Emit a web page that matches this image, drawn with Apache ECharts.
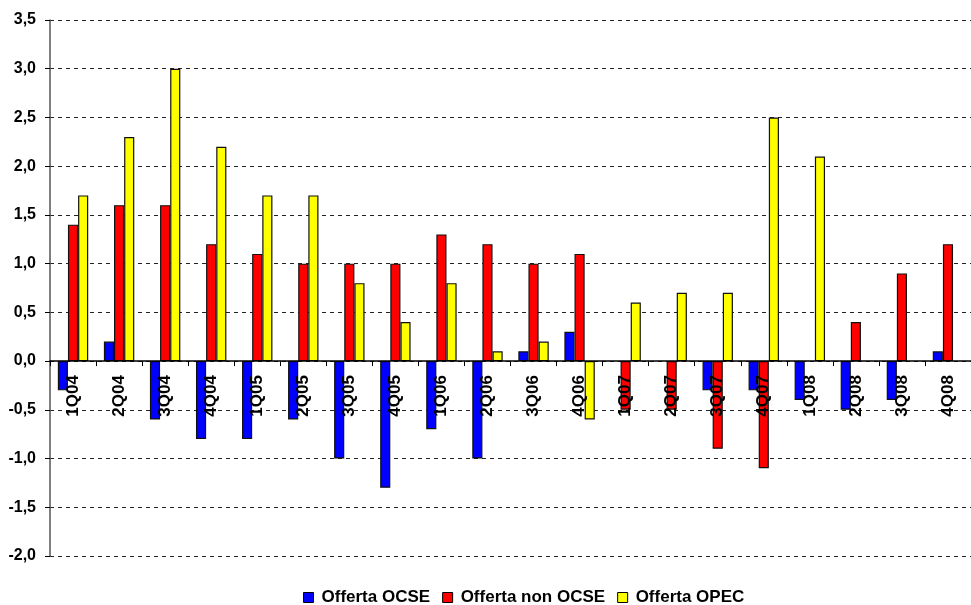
<!DOCTYPE html>
<html>
<head>
<meta charset="utf-8">
<script src="https://cdn.jsdelivr.net/npm/echarts@6/dist/echarts.min.js"></script>
<style>
  html, body { margin: 0; padding: 0; background: #fff; }
  #chart { width: 971px; height: 605px; }
</style>
</head>
<body>
<div id="chart"></div>
<script>
// Quarterly supply changes (million barrels/day), 2004-2008
const quarters = ['1Q04','2Q04','3Q04','4Q04','1Q05','2Q05','3Q05','4Q05','1Q06','2Q06',
                  '3Q06','4Q06','1Q07','2Q07','3Q07','4Q07','1Q08','2Q08','3Q08','4Q08'];
const offertaOCSE    = [-0.3, 0.2, -0.6, -0.8, -0.8, -0.6, -1.0, -1.3, -0.7, -1.0,
                         0.1, 0.3, null, null, -0.3, -0.3, -0.4, -0.5, -0.4, 0.1];
const offertaNonOCSE = [1.4, 1.6, 1.6, 1.2, 1.1, 1.0, 1.0, 1.0, 1.3, 1.2,
                        1.0, 1.1, -0.5, -0.5, -0.9, -1.1, null, 0.4, 0.9, 1.2];
const offertaOPEC    = [1.7, 2.3, 3.0, 2.2, 1.7, 1.7, 0.8, 0.4, 0.8, 0.1,
                        0.2, -0.6, 0.6, 0.7, 0.7, 2.5, 2.1, null, null, null];
const seriesNames = ['Offerta OCSE', 'Offerta non OCSE', 'Offerta OPEC'];
const seriesColors = ['#0000ff', '#ff0000', '#ffff00'];
const yMin = -2, yMax = 3.5, yStep = 0.5;

const FONT = '"Liberation Sans", Arial, sans-serif';
const GRID_TOP = 20, GRID_BOTTOM = 49, HEIGHT = 605;
// the category axis sits on the zero line: shift it up from the bottom edge
const plotH = HEIGHT - GRID_TOP - GRID_BOTTOM;
const zeroOffset = -plotH * (0 - yMin) / (yMax - yMin);

const chart = echarts.init(document.getElementById('chart'), null, { renderer: 'canvas' });

const barSeries = [offertaOCSE, offertaNonOCSE, offertaOPEC].map((vals, i) => ({
  name: seriesNames[i],
  type: 'bar',
  data: vals,
  barGap: '0%',
  barCategoryGap: '34%',
  z: 2,
  itemStyle: { color: seriesColors[i], borderColor: '#111', borderWidth: 1.2 },
  emphasis: { disabled: true }
}));

chart.setOption({
  animation: false,
  backgroundColor: '#fff',
  grid: { left: 50, right: -12, top: GRID_TOP, bottom: GRID_BOTTOM, containLabel: false },
  legend: {
    data: seriesNames.map((n, i) => ({ name: n, itemStyle: { color: seriesColors[i], borderColor: '#000', borderWidth: 1 } })),
    left: 298, top: 584,
    icon: 'rect',
    itemWidth: 10, itemHeight: 10, itemGap: 12,
    textStyle: { fontFamily: FONT, fontWeight: 'bold', fontSize: 17, color: '#000', padding: [0, 0, 0, 3] }
  },
  xAxis: {
    type: 'category',
    data: quarters,
    position: 'bottom',
    offset: zeroOffset,
    z: 10,
    axisLine: { onZero: false, lineStyle: { color: '#000', width: 1.5 } },
    axisTick: { show: true, length: 5, inside: false, lineStyle: { color: '#000' } },
    axisLabel: {
      rotate: 90, margin: 14, interval: 0,
      fontFamily: FONT, fontWeight: 'bold', fontSize: 17, color: '#000'
    }
  },
  yAxis: {
    type: 'value',
    min: yMin, max: yMax, interval: yStep,
    axisLine: { show: true, lineStyle: { color: '#555', width: 1.5 } },
    axisTick: { show: true, length: 5, lineStyle: { color: '#000' } },
    axisLabel: {
      margin: 14,
      fontFamily: FONT, fontWeight: 'bold', fontSize: 16, color: '#000',
      formatter: v => v.toFixed(1).replace('.', ',')
    },
    splitLine: { show: true, lineStyle: { color: '#222', type: [4, 4], width: 1 } }
  },
  series: barSeries
});
</script>
</body>
</html>
